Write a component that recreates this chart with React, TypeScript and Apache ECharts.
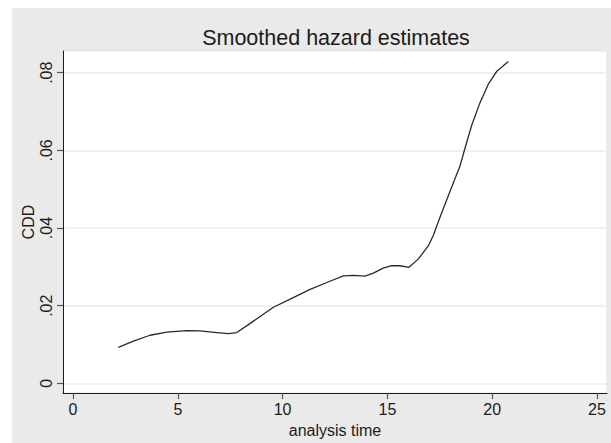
import React, { useEffect, useRef } from "react";
import * as echarts from "echarts";

const titleText = "Smoothed hazard estimates";
const xTitle = "analysis time";
const yTitle = "CDD";

const xTicks = [0, 5, 10, 15, 20, 25];
const yTicks = [0, 0.02, 0.04, 0.06, 0.08];

const times = [
  2.16, 2.88, 3.67, 4.47, 5.42, 6.06, 6.86, 7.41, 7.81, 8.44, 9.56, 10.51,
  11.31, 12.26, 12.9, 13.37, 13.93, 14.33, 14.8, 15.2, 15.6, 16.03, 16.47,
  16.95, 17.19, 17.51, 17.99, 18.46, 18.7, 19.02, 19.42, 19.81, 20.21, 20.77,
];
const hazard = [
  0.0093, 0.0109, 0.0124, 0.0132, 0.0136, 0.0135, 0.0131, 0.0128, 0.0131,
  0.0154, 0.0196, 0.0221, 0.0242, 0.0263, 0.0277, 0.0278, 0.0276, 0.0284,
  0.0297, 0.0303, 0.0303, 0.0299, 0.032, 0.0354, 0.0381, 0.0428, 0.0495,
  0.0559, 0.0605, 0.0664, 0.0723, 0.077, 0.0803, 0.0829,
];

const FONT = "'Liberation Sans', Arial, Helvetica, sans-serif";

export default function App() {
  const ref = useRef<HTMLDivElement>(null);
  useEffect(() => {
    if (!ref.current) return;
    const chart = echarts.init(ref.current, undefined, { renderer: "svg" });
    const data = times.map((t, i) => [t, hazard[i]]);
    chart.setOption({
      animation: false,
      backgroundColor: "#ffffff",
      graphic: [
        {
          type: "rect",
          z: -10,
          silent: true,
          shape: { x: 12, y: 8, width: 599, height: 435 },
          style: { fill: "#eaeaea" },
        },
        {
          type: "text",
          x: 336,
          y: 38,
          style: {
            text: titleText,
            align: "center",
            verticalAlign: "middle",
            font: `21.5px ${FONT}`,
            fill: "#1c1c1c",
          },
        },
      ],
      grid: {
        left: 63,
        top: 51,
        right: 4,
        bottom: 44,
        show: true,
        backgroundColor: "#ffffff",
        borderColor: "#e4e4e4",
        borderWidth: 1,
        containLabel: false,
      },
      xAxis: {
        type: "value",
        min: -0.48,
        max: 25.48,
        name: xTitle,
        nameLocation: "middle",
        nameGap: 24,
        nameTextStyle: { fontFamily: FONT, fontSize: 16, color: "#1c1c1c" },
        axisLine: { show: true, onZero: false, lineStyle: { color: "#1c1c1c", width: 1 } },
        axisTick: { show: true, customValues: xTicks, length: 6, lineStyle: { color: "#555", width: 1.2 } },
        axisLabel: {
          customValues: xTicks,
          margin: 8,
          fontFamily: FONT,
          fontSize: 16,
          color: "#1c1c1c",
          formatter: (v: number) => String(v),
        },
        splitLine: { show: false },
      },
      yAxis: {
        type: "value",
        min: -0.0025,
        max: 0.0856,
        name: yTitle,
        nameLocation: "middle",
        nameRotate: 90,
        nameGap: 27,
        nameMoveOverlap: false,
        nameTextStyle: { fontFamily: FONT, fontSize: 16, color: "#1c1c1c" },
        axisLine: { show: true, onZero: false, lineStyle: { color: "#1c1c1c", width: 1 } },
        axisTick: { show: true, customValues: yTicks, length: 6, lineStyle: { color: "#555", width: 1.2 } },
        axisLabel: {
          customValues: yTicks,
          rotate: 90,
          margin: 9,
          fontFamily: FONT,
          fontSize: 16,
          color: "#1c1c1c",
          formatter: (v: number) => (v === 0 ? "0" : v.toFixed(2).replace(/^0/, "")),
        },
        splitLine: { show: true, lineStyle: { color: "#ebebeb", width: 1.5 } },
      },
      series: [
        {
          type: "line",
          data,
          showSymbol: false,
          symbol: "none",
          smooth: false,
          lineStyle: { color: "#2a2a2a", width: 1.3 },
          silent: true,
        },
      ],
    });
    return () => chart.dispose();
  }, []);
  return (
    <div
      ref={ref}
      style={{ position: "absolute", left: 0, top: 0, width: 611, height: 443 }}
    />
  );
}
